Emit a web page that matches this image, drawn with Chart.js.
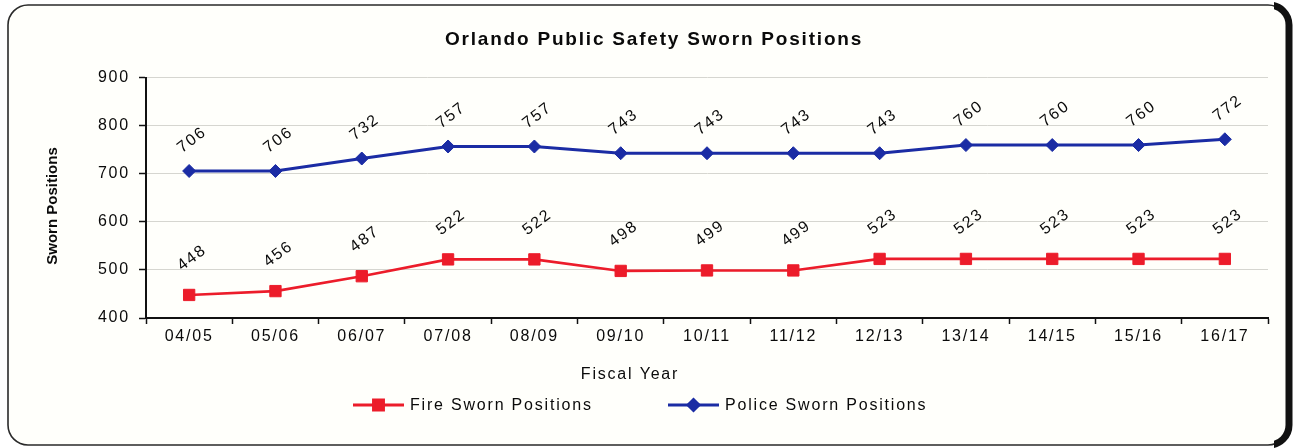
<!DOCTYPE html>
<html>
<head>
<meta charset="utf-8">
<title>Orlando Public Safety Sworn Positions</title>
<script src="https://cdn.jsdelivr.net/npm/chart.js@4.4.1/dist/chart.umd.min.js"></script>
<style>
  html, body { margin: 0; padding: 0; background: #fff; }
  #wrap { position: relative; width: 1295px; height: 448px; }
</style>
</head>
<body>
<div id="wrap"><canvas id="chart"></canvas></div>
<script>
const fiscalYears = ['04/05', '05/06', '06/07', '07/08', '08/09', '09/10', '10/11',
  '11/12', '12/13', '13/14', '14/15', '15/16', '16/17'];
const fireSworn = [448, 456, 487, 522, 522, 498, 499, 499, 523, 523, 523, 523, 523];
const policeSworn = [706, 706, 732, 757, 757, 743, 743, 743, 743, 760, 760, 760, 772];
const seriesNames = ['Fire Sworn Positions', 'Police Sworn Positions'];
const yMin = 400;
const yMax = 900;
const yStep = 100;

const FONT = '"Liberation Sans", Arial, Helvetica, sans-serif';
const RED = '#ec1c2a';
const BLUE = '#1b2ca4';
const TRACKING = '1.8px';

Chart.defaults.font.family = FONT;
Chart.defaults.color = '#0a0a0a';

// wide letter spacing used by all canvas text
const tracking = {
  id: 'tracking',
  beforeLayout(chart) { chart.ctx.letterSpacing = TRACKING; },
  beforeDraw(chart) { chart.ctx.letterSpacing = TRACKING; }
};

// rounded frame round the whole chart
const frame = {
  id: 'frame',
  beforeDraw(chart) {
    const ctx = chart.ctx;
    ctx.save();
    ctx.fillStyle = '#fff';
    ctx.fillRect(0, 0, chart.width, chart.height);
    ctx.beginPath();
    ctx.roundRect(8, 5, 1280, 440, 20);
    ctx.fillStyle = '#fffffb';
    ctx.fill();
    ctx.lineWidth = 1.6;
    ctx.strokeStyle = '#2a2a2a';
    ctx.stroke();
    // heavier right-hand edge
    ctx.beginPath();
    ctx.rect(1274, 0, 30, chart.height);
    ctx.clip();
    ctx.beginPath();
    ctx.roundRect(8, 5, 1281, 440, 20);
    ctx.lineWidth = 7;
    ctx.strokeStyle = '#111';
    ctx.stroke();
    ctx.restore();
  }
};

// rotated value above every point
const pointValues = {
  id: 'pointValues',
  afterDatasetsDraw(chart, args, opts) {
    const ctx = chart.ctx;
    ctx.save();
    ctx.font = '16px ' + FONT;
    ctx.letterSpacing = TRACKING;
    ctx.fillStyle = '#0a0a0a';
    ctx.textAlign = 'center';
    ctx.textBaseline = 'middle';
    chart.data.datasets.forEach((ds, i) => {
      const meta = chart.getDatasetMeta(i);
      meta.data.forEach((pt, j) => {
        ctx.save();
        ctx.translate(pt.x + 3, pt.y - opts.lift[i]);
        ctx.rotate(-37 * Math.PI / 180);
        ctx.fillText(String(ds.data[j]), 0, 0);
        ctx.restore();
      });
    });
    ctx.restore();
  }
};

// axis titles and legend drawn at fixed spots
const extras = {
  id: 'extras',
  afterDraw(chart) {
    const ctx = chart.ctx;
    ctx.save();
    ctx.fillStyle = '#0a0a0a';
    ctx.textBaseline = 'middle';

    ctx.font = '16px ' + FONT;
    ctx.letterSpacing = TRACKING;
    ctx.textAlign = 'center';
    ctx.fillText('Fiscal Year', 630, 375);

    ctx.save();
    ctx.translate(53, 206);
    ctx.rotate(-Math.PI / 2);
    ctx.font = 'bold 15px ' + FONT;
    ctx.letterSpacing = '0px';
    ctx.fillText('Sworn Positions', 0, 0);
    ctx.restore();

    const starts = [353, 668];
    const markSize = [7, 5.5];
    chart.data.datasets.forEach((ds, i) => {
      const x = starts[i];
      const y = 405;
      ctx.strokeStyle = ds.borderColor;
      ctx.fillStyle = ds.borderColor;
      ctx.lineWidth = 3;
      ctx.beginPath();
      ctx.moveTo(x, y);
      ctx.lineTo(x + 51, y);
      ctx.stroke();
      Chart.helpers.drawPoint(ctx, {
        pointStyle: ds.pointStyle, radius: markSize[i], rotation: 0, borderWidth: 1
      }, x + 25.5, y);
      ctx.fillStyle = '#0a0a0a';
      ctx.textAlign = 'left';
      ctx.font = '16px ' + FONT;
      ctx.letterSpacing = TRACKING;
      ctx.fillText(ds.label, x + 57, y + 1);
    });
    ctx.restore();
  }
};

new Chart(document.getElementById('chart'), {
  type: 'line',
  data: {
    labels: fiscalYears,
    datasets: [
      {
        label: seriesNames[0],
        data: fireSworn,
        borderColor: RED,
        backgroundColor: RED,
        borderWidth: 2.6,
        pointStyle: 'rect',
        pointRadius: 8,
        pointBorderWidth: 1,
        tension: 0
      },
      {
        label: seriesNames[1],
        data: policeSworn,
        borderColor: BLUE,
        backgroundColor: BLUE,
        borderWidth: 3,
        pointStyle: 'rectRot',
        pointRadius: 6.5,
        pointBorderWidth: 1,
        tension: 0
      }
    ]
  },
  options: {
    responsive: true,
    maintainAspectRatio: false,
    animation: false,
    layout: { padding: { left: 40, right: 27, top: 0, bottom: 0 } },
    plugins: {
      legend: { display: false },
      tooltip: { enabled: false },
      title: {
        display: true,
        text: 'Orlando Public Safety Sworn Positions',
        font: { size: 19, weight: 'bold' },
        color: '#0a0a0a',
        padding: { top: 28, bottom: 27 }
      },
      pointValues: { lift: [37, 31] }
    },
    scales: {
      x: {
        offset: true,
        afterFit(scale) { scale.height = 130; },
        grid: {
          offset: true,
          drawOnChartArea: false,
          drawTicks: true,
          tickLength: 6,
          tickColor: '#111',
          tickWidth: 1.5
        },
        border: { color: '#111', width: 2 },
        ticks: {
          font: { size: 16 },
          color: '#0a0a0a',
          padding: 3,
          autoSkip: false,
          maxRotation: 0
        }
      },
      y: {
        min: yMin,
        max: yMax,
        afterFit(scale) { scale.width = 106; },
        grid: {
          color: '#d6d6d0',
          lineWidth: 1,
          borderDash: [2, 3],
          tickLength: 7,
          tickColor: '#111',
          tickWidth: 1.5,
          tickBorderDash: []
        },
        border: { color: '#111', width: 2 },
        ticks: {
          stepSize: yStep,
          font: { size: 16 },
          color: '#0a0a0a',
          padding: 9
        }
      }
    }
  },
  plugins: [tracking, frame, pointValues, extras]
});
</script>
</body>
</html>
